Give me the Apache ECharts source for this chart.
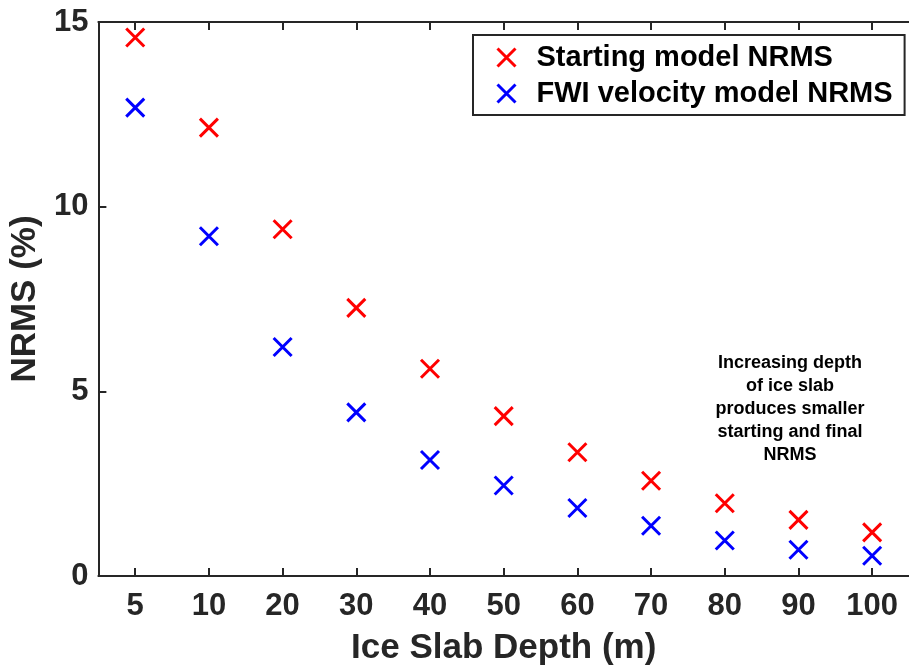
<!DOCTYPE html>
<html>
<head>
<meta charset="utf-8">
<script src="https://cdn.jsdelivr.net/npm/echarts@6/dist/echarts.min.js"></script>
<style>
html,body{margin:0;padding:0;background:#fff;}
#chart{width:909px;height:671px;}
</style>
</head>
<body>
<div id="chart"></div>
<script>
const depths = ['5','10','20','30','40','50','60','70','80','90','100'];
const startingNRMS = [14.58, 12.14, 9.39, 7.26, 5.61, 4.33, 3.35, 2.58, 1.97, 1.52, 1.18];
const fwiNRMS = [12.68, 9.20, 6.20, 4.43, 3.14, 2.45, 1.84, 1.36, 0.96, 0.71, 0.55];
const yTicks = [0, 5, 10, 15];
const seriesNames = ['Starting model NRMS', 'FWI velocity model NRMS'];
const seriesColors = ['#ff0000', '#0000ff'];
const annotation = 'Increasing depth\nof ice slab\nproduces smaller\nstarting and final\nNRMS';

const FONT = '"Liberation Sans", Arial, Helvetica, sans-serif';
const AX = '#262626';
const X_SYMBOL = 'path://M0,0L10,10M10,0L0,10';

const chart = echarts.init(document.getElementById('chart'), null, {renderer: 'canvas'});

function xSeries(name, data, color) {
  return {
    name: name,
    type: 'scatter',
    data: data,
    symbol: X_SYMBOL,
    symbolSize: 18,
    itemStyle: {color: 'rgba(0,0,0,0)', borderColor: color, borderWidth: 3, opacity: 1},
    emphasis: {disabled: true}
  };
}

chart.setOption({
  animation: false,
  backgroundColor: '#fff',
  grid: {left: 97, top: 22, width: 817, height: 556, containLabel: false},
  xAxis: [{
    type: 'category',
    data: depths,
    position: 'bottom',
    boundaryGap: true,
    name: 'Ice Slab Depth (m)',
    nameLocation: 'middle',
    nameGap: 55,
    nameTextStyle: {fontFamily: FONT, fontSize: 35, fontWeight: 'bold', color: AX},
    axisLine: {show: true, lineStyle: {color: AX, width: 2}},
    axisTick: {show: true, inside: true, alignWithLabel: true, interval: 0, length: 8, lineStyle: {color: AX, width: 2}},
    axisLabel: {interval: 0, margin: 15, fontFamily: FONT, fontSize: 31, fontWeight: 'bold', color: AX},
    splitLine: {show: false}
  }, {
    type: 'category',
    data: depths,
    position: 'top',
    boundaryGap: true,
    axisLine: {show: true, onZero: false, lineStyle: {color: AX, width: 2}},
    axisTick: {show: true, inside: true, alignWithLabel: true, interval: 0, length: 8, lineStyle: {color: AX, width: 2}},
    axisLabel: {show: false},
    splitLine: {show: false}
  }],
  yAxis: [{
    type: 'value',
    min: 0,
    max: 15,
    interval: 5,
    name: 'NRMS (%)',
    nameLocation: 'middle',
    nameRotate: 90,
    nameGap: 48,
    nameTextStyle: {fontFamily: FONT, fontSize: 35, fontWeight: 'bold', color: AX},
    axisLine: {show: true, lineStyle: {color: AX, width: 2}},
    axisTick: {show: true, inside: true, length: 8, lineStyle: {color: AX, width: 2}},
    axisLabel: {margin: 10, fontFamily: FONT, fontSize: 31, fontWeight: 'bold', color: AX,
      formatter: function (v) { return yTicks.indexOf(v) >= 0 ? String(v) : ''; }},
    splitLine: {show: false}
  }],
  legend: {
    orient: 'vertical',
    left: 473,
    top: 35,
    padding: [8, 12, 7, 23],
    itemWidth: 18,
    itemHeight: 18,
    itemGap: 7,
    backgroundColor: '#fff',
    borderColor: AX,
    borderWidth: 2,
    borderRadius: 0,
    selectedMode: false,
    textStyle: {fontFamily: FONT, fontSize: 29, fontWeight: 'bold', color: '#000', padding: [0, 0, 0, 16]},
    data: seriesNames.map(function (n, i) {
      return {name: n, icon: X_SYMBOL,
        itemStyle: {color: 'rgba(0,0,0,0)', borderColor: seriesColors[i], borderWidth: 3, opacity: 1}};
    })
  },
  graphic: [{
    type: 'text',
    x: 790,
    y: 409,
    style: {
      text: annotation,
      fontFamily: FONT,
      fontSize: 18,
      fontWeight: 'bold',
      lineHeight: 23,
      fill: '#000',
      align: 'center',
      verticalAlign: 'middle'
    }
  }],
  series: [
    xSeries(seriesNames[0], startingNRMS, seriesColors[0]),
    xSeries(seriesNames[1], fwiNRMS, seriesColors[1])
  ]
});
</script>
</body>
</html>
